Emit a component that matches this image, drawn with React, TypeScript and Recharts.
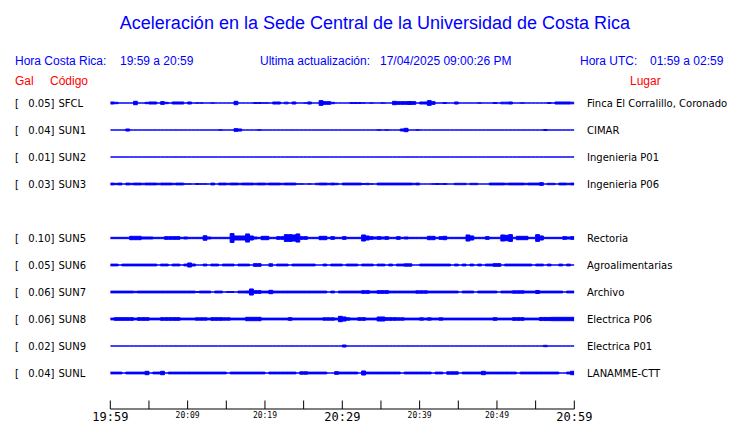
import React from 'react';
import { ComposedChart, Area, XAxis, YAxis } from 'recharts';

// estaciones en orden de arriba hacia abajo (SUN4 sin datos en esta hora)
const stations = ['SFCL', 'SUN1', 'SUN2', 'SUN3', 'SUN4', 'SUN5', 'SUN6', 'SUN7', 'SUN8', 'SUN9', 'SUNL'];
const peakGal = ['0.05', '0.04', '0.01', '0.03', '', '0.10', '0.05', '0.06', '0.06', '0.02', '0.04'];
const places = [
  'Finca El Corralillo, Coronado',
  'CIMAR',
  'Ingenieria P01',
  'Ingenieria P06',
  '',
  'Rectoria',
  'Agroalimentarias',
  'Archivo',
  'Electrica P06',
  'Electrica P01',
  'LANAMME-CTT',
];

// minutos desde 19:59 y sus etiquetas
const tickMinutes = [0, 5, 10, 15, 20, 25, 30, 35, 40, 45, 50, 55, 60];
const tickLabels = ['19:59', '', '20:09', '', '20:19', '', '20:29', '', '20:39', '', '20:49', '', '20:59'];
const majorTicks = [0, 30, 60];

// envolvente (media amplitud) por intervalo de 30 s, 120 intervalos por traza
const envSFCL = [
  1.5, 1, 0, 0, 0, 0, 2.5, 0, 0, 1,
  1.5, 1.5, 0, 2, 1, 0, 1.5, 1.5, 1.5, 0,
  1.5, 0, 0.5, 0.5, 0, 0, 0.5, 0, 0, 0,
  0, 0, 2.5, 0, 0, 0, 0, 0.7, 0.7, 0.5,
  0.5, 0, 1.5, 1.5, 0, 1.2, 0, 1.5, 0, 0,
  0.5, 1.5, 0, 0, 3.5, 2, 2, 1, 0, 0,
  0, 0, 0.7, 0.7, 0.7, 0.5, 0, 0.5, 0, 0,
  0.5, 0, 0, 2.5, 2, 2, 2, 2.2, 2, 0,
  1.5, 1.5, 3.5, 2, 0, 0, 0.7, 0, 0, 1.5,
  0, 0, 0, 0, 0, 0.5, 0, 0, 0, 0.7,
  0, 1.2, 1.2, 1.5, 0, 0, 0.5, 0, 0, 0,
  0, 0, 0, 0.7, 0, 1.5, 1.5, 1.5, 1.5, 1.2,
];
const envSUN1 = [
  0, 0, 0, 0, 1.5, 0, 0, 0, 0, 0,
  0, 0, 0, 0, 0, 0, 0, 0, 0, 0,
  0, 0, 0, 0, 0, 0, 0, 0, 0.5, 0,
  0, 0, 2, 1.5, 0, 0, 0, 0, 0.5, 0,
  0, 0, 0, 0, 0, 0, 0, 0, 0, 0,
  0, 0, 0, 0, 0, 0, 0, 0, 0, 0,
  0, 0, 0, 0, 0, 0, 0, 0, 0, 0.5,
  0, 0.5, 0, 0, 0, 1.5, 2.5, 0, 0, 0.5,
  0, 0, 0, 0, 0, 0, 0, 0, 0, 0,
  0, 0, 0, 0, 0, 0, 0, 0, 0, 0,
  0, 0, 0, 0, 0, 0, 0, 0, 0, 0,
  0, 0, 0.7, 0, 0, 0, 0, 0, 0, 0,
];
const envSUN2 = [
  0, 0, 0, 0, 0, 0, 0, 0, 0, 0,
  0, 0, 0, 0, 0, 0, 0, 0, 0, 0,
  0, 0, 0, 0, 0, 0, 0, 0, 0, 0,
  0, 0, 0, 0, 0, 0, 0, 0, 0, 0,
  0, 0, 0, 0, 0, 0, 0, 0, 0, 0,
  0, 0, 0, 0, 0, 0, 0, 0, 0, 0,
  0, 0, 0, 0, 0, 0, 0, 0, 0, 0,
  0, 0, 0, 0, 0, 0, 0, 0, 0, 0,
  0, 0, 0, 0, 0, 0, 0, 0, 0, 0,
  0, 0, 0, 0, 0, 0, 0, 0, 0, 0,
  0, 0, 0, 0, 0, 0, 0, 0, 0, 0,
  0, 0, 0, 0, 0, 0, 0, 0, 0, 0,
];
const envSUN3 = [
  1.3, 1, 1.3, 0, 1.3, 1, 1.3, 1.3, 1, 1.3,
  1.3, 1.3, 1, 1.3, 1.3, 1.3, 1, 1.3, 1.3, 0.5,
  0.5, 0, 0.7, 0.5, 0.5, 0, 1.3, 0, 1.3, 1.3,
  1, 1.3, 1.3, 1, 1.3, 1.3, 1.3, 1, 1.3, 1.3,
  1, 1.3, 1.3, 1.3, 1, 1.3, 1.3, 1.3, 0.5, 0.5,
  0, 0.5, 0, 1, 1.3, 1.3, 1, 1.3, 1, 0,
  1.3, 1.3, 1.3, 1.3, 1.3, 0.7, 1, 0.5, 0, 1.3,
  1.3, 1.3, 1.3, 1.3, 1.3, 1.3, 1.3, 1.3, 1, 1.3,
  0, 0, 0, 0.5, 0.7, 0.5, 0.7, 0, 0, 1,
  1, 1, 0, 1, 1, 0, 0, 0, 1.3, 1.3,
  1.3, 1.3, 1, 1.3, 1.3, 1.3, 1.3, 1, 1.3, 1.3,
  1.3, 2, 0, 1, 1, 0, 1.3, 1.3, 1, 1.3,
];
const envSUN5 = [
  1, 1, 1, 1, 1, 2.5, 2.5, 2.5, 1.5, 1.5,
  1.5, 1, 1, 1, 2, 2, 2, 2, 1, 1.5,
  1, 1, 1, 1, 3.3, 1.5, 1, 1, 1, 1,
  1, 6.5, 3, 3, 3, 6, 3, 1.5, 1, 2.5,
  2.5, 1, 1, 2, 2, 5, 5, 4.5, 6, 2,
  2, 1, 1, 1, 2.5, 2.5, 1, 2, 1, 1,
  2, 1, 1, 1, 1, 4.5, 3, 2, 1.5, 2,
  1.5, 2, 1, 1, 2, 1, 1.5, 1, 1, 1,
  1, 1, 2.5, 2.5, 1, 2, 2.5, 1, 1, 1,
  1, 1, 4.5, 3, 1, 1, 1, 2, 1, 1,
  1, 4.5, 4, 5, 1, 2.5, 2.5, 2.5, 1, 1,
  5, 3, 1, 1, 1, 1, 1, 2, 1.5, 2,
];
const envSUN6 = [
  1.3, 1.3, 0, 1.3, 1.3, 1.3, 1.3, 1.3, 1.3, 1.3,
  1.3, 1.3, 0, 1.3, 1.3, 0, 1.3, 1.3, 0, 1.3,
  3, 1.5, 0, 0, 1.3, 0, 1.3, 1.3, 0, 1.3,
  1.3, 1.3, 0, 1.3, 1.3, 1.3, 0, 2, 2, 0,
  0, 1.8, 0, 1.3, 1.3, 1.3, 0, 1.3, 1.3, 1.3,
  1.3, 1.3, 1.3, 0, 0, 1.3, 0, 1.3, 1.3, 1.3,
  0, 1.3, 1.3, 1.3, 0, 1.3, 1.3, 1.3, 0, 1.3,
  1.3, 0, 1.3, 0, 1.3, 1.3, 1.7, 1.7, 0, 0,
  1.3, 1.3, 1.3, 1.3, 1.3, 1.3, 1.3, 1.3, 0, 1.3,
  0, 1.3, 0, 1.3, 0, 1.3, 0, 1.3, 1.3, 2,
  2, 0, 1.3, 1.3, 1.3, 1.3, 1.3, 1.3, 1.3, 0,
  1.3, 1.3, 0, 1.3, 0, 0, 1.3, 0, 1.3, 0,
];
const envSUN7 = [
  1.3, 1.3, 1.3, 1.3, 1.3, 1.3, 1, 1.3, 1.3, 1.3,
  1.3, 1.3, 1.3, 1.3, 1.3, 1.3, 1.3, 1.3, 1.3, 1.3,
  1.3, 1.3, 0.7, 1.3, 1.3, 1.3, 0, 1.3, 1.3, 0,
  0.7, 0.7, 0, 1.3, 1.3, 1.5, 4.5, 2, 2, 1.3,
  1.3, 2.5, 1.3, 1.3, 1.3, 1.3, 1.3, 1.3, 1.3, 1.3,
  1.3, 1.3, 1.3, 1.3, 1.3, 1.3, 0, 1.3, 0, 1.3,
  1.3, 1.3, 1.3, 1.3, 1.3, 2, 2, 1.3, 1.3, 2,
  2, 2, 1.3, 1.3, 1.3, 1.3, 1.3, 1.3, 1.3, 1.8,
  1.8, 1.8, 1.3, 1.3, 1.3, 1.3, 1.3, 1.3, 1.3, 1.3,
  0, 1.3, 1.3, 1.3, 0, 1.3, 1.3, 1.3, 1.3, 1.3,
  0, 1.3, 1.3, 1.3, 1.8, 1.8, 1.8, 1.3, 1.3, 1.3,
  2.2, 1.3, 1.3, 1.3, 1.3, 1.3, 1.3, 0, 1.3, 1.3,
];
const envSUN8 = [
  1.3, 2, 2, 2, 2, 2, 1.3, 2, 2, 2,
  1.3, 1.3, 1.3, 2, 2, 2, 2, 2, 1.3, 1.3,
  1.3, 1.3, 1.8, 1.8, 1.8, 1.3, 2, 2, 2, 1.8,
  1.8, 1.3, 1.3, 1.3, 1.3, 2.5, 2.5, 2.5, 2.5, 1.3,
  1.3, 1.3, 1.3, 1.3, 1.3, 1.3, 2, 1.3, 1.3, 1.3,
  1.3, 1.3, 1.3, 1.3, 1.3, 1.8, 1.8, 1.8, 1.3, 4,
  3, 1.8, 1.3, 1.3, 2, 2, 1.3, 1.3, 1.3, 3,
  3, 2, 2, 2, 1.8, 1.8, 1.3, 1.3, 1.3, 1.3,
  1.8, 1.3, 1.8, 1.3, 1.3, 1.8, 1.3, 1.3, 1.3, 1.3,
  1.3, 1.3, 1.3, 1.3, 1.3, 1.3, 1.3, 1.3, 1.3, 2,
  1.3, 1.3, 1.3, 1.3, 2, 2, 2, 1.3, 1.3, 1.3,
  1.3, 2.3, 2.3, 2.3, 2.5, 2.5, 2.5, 2.5, 2.5, 2.5,
];
const envSUN9 = [
  0, 0, 0, 0, 0, 0, 0, 0, 0, 0,
  0, 0, 0, 0, 0, 0, 0, 0, 0, 0,
  0, 0, 0, 0, 0, 0, 0, 0, 0, 0,
  0, 0, 0, 0, 0, 0, 0, 0, 0, 0,
  0, 0, 0, 0, 0, 0, 0, 0, 0, 0,
  0, 0, 0, 0, 0, 0, 0, 0, 0, 0,
  1.5, 0, 0, 0, 0, 0, 0, 0, 0, 0,
  0, 0, 0, 0, 0, 0, 0, 0, 0, 0,
  0, 0, 0, 0, 0, 0, 0, 0, 0, 0,
  0, 0, 0, 0, 0, 0, 0, 0, 0, 0,
  0, 0, 0, 0, 0, 0, 0, 0, 0, 0,
  0, 0, 1, 0, 0, 0, 0, 0, 0, 0,
];
const envSUNL = [
  1.3, 1.3, 1.3, 0, 1.3, 1.3, 1.3, 1.3, 1.3, 2.5,
  0, 1.3, 1.3, 2.5, 0, 1.3, 1.3, 1.3, 1.3, 1.3,
  1.3, 1.3, 1.3, 1.3, 1.3, 1.3, 1.3, 1.3, 1.3, 1.3,
  0, 1.3, 1.3, 1.3, 1.3, 1.3, 1.3, 1.3, 1.3, 1.3,
  0, 1.3, 1.3, 1.3, 1.3, 1.3, 1.3, 1.3, 0, 1.8,
  1.8, 1.3, 1.3, 1.3, 1.3, 1.3, 0, 0, 2, 1.3,
  1.3, 1.3, 1.3, 1.3, 0, 3, 1.3, 1.3, 1.3, 1.3,
  1.3, 1.3, 1.3, 1.3, 1.3, 0, 1.3, 1.3, 1.3, 1.3,
  1.3, 1.3, 1.3, 0, 1.3, 1.3, 0, 1.8, 1.8, 1.8,
  0, 1.3, 1.3, 1.3, 1.3, 1.3, 2.5, 1.3, 1.3, 1.3,
  1.3, 1.3, 1.3, 1.3, 1.3, 0, 1.3, 1.3, 1.3, 1.3,
  1.3, 1.3, 1.3, 1.3, 1.3, 1.3, 0, 0, 1.3, 2.5,
];

const envelopes: (number[] | null)[] = [
  envSFCL, envSUN1, envSUN2, envSUN3, null, envSUN5, envSUN6, envSUN7, envSUN8, envSUN9, envSUNL,
];

const BLUE = '#0000ff';
const RED = '#ff0000';
const AMP_SCALE = 40; // cuentas de envolvente por fila
const ROWS_DOMAIN = 333 / 27;

// tabla para recharts: cada traza como rango [base - a, base + a]
const table = Array.from({ length: 121 }, (_, i) => {
  const row: Record<string, any> = { t: i * 0.5 };
  envelopes.forEach((env, k) => {
    if (!env) return;
    const a = env[Math.min(i, env.length - 1)] / AMP_SCALE;
    row[stations[k]] = [k + 1 - a, k + 1 + a];
  });
  return row;
});

const rowTicks = stations.map((_, k) => k + 1);

const StationTick = (props: any) => {
  const { y, payload } = props;
  const k = payload.value - 1;
  if (!peakGal[k]) return null;
  const font = { fontFamily: 'DejaVu Sans', fontSize: 10, fill: '#000' };
  return (
    <g>
      <text x={15} y={y + 3.5} {...font}>[</text>
      <text x={54.5} y={y + 3.5} textAnchor="end" {...font}>{peakGal[k] + ']'}</text>
      <text x={58.5} y={y + 3.5} {...font}>{stations[k]}</text>
    </g>
  );
};

const PlaceTick = (props: any) => {
  const { y, payload } = props;
  const k = payload.value - 1;
  if (!places[k]) return null;
  return (
    <text x={587} y={y + 3.5} fontFamily="DejaVu Sans" fontSize={10} fill="#000">
      {places[k]}
    </text>
  );
};

const TimeTick = (props: any) => {
  const { x, y, payload } = props;
  const i = tickMinutes.indexOf(payload.value);
  const major = majorTicks.includes(payload.value);
  return (
    <g>
      <line x1={x} x2={x} y1={y - 8.5} y2={y} stroke="#000" strokeWidth={1} />
      {tickLabels[i] ? (
        <text
          x={x}
          y={major ? y + 11.7 : y + 8.7}
          textAnchor="middle"
          fontFamily="DejaVu Sans Mono"
          fontSize={major ? 12 : 8}
          fill="#000"
        >
          {tickLabels[i]}
        </text>
      ) : null}
    </g>
  );
};

const Header = () => {
  const sans = { fontFamily: 'Liberation Sans, Arial', fontSize: 12 };
  return (
    <svg width={740} height={95} style={{ position: 'absolute', left: 0, top: 0, pointerEvents: 'none' }}>
      <text x={375} y={29} textAnchor="middle" fontFamily="Liberation Sans, Arial" fontSize={18} fill={BLUE}>
        Aceleración en la Sede Central de la Universidad de Costa Rica
      </text>
      <text x={15} y={65} fill={BLUE} {...sans}>Hora Costa Rica:</text>
      <text x={120} y={65} fill={BLUE} {...sans}>19:59 a 20:59</text>
      <text x={260} y={65} fill={BLUE} {...sans}>Ultima actualización:</text>
      <text x={380} y={65} fill={BLUE} {...sans}>17/04/2025 09:00:26 PM</text>
      <text x={580} y={65} fill={BLUE} {...sans}>Hora UTC:</text>
      <text x={650} y={65} fill={BLUE} {...sans}>01:59 a 02:59</text>
      <text x={15} y={85} fill={RED} {...sans}>Gal</text>
      <text x={50} y={85} fill={RED} {...sans}>Código</text>
      <text x={630} y={85} fill={RED} {...sans}>Lugar</text>
    </svg>
  );
};

export default function App() {
  return (
    <div style={{ position: 'absolute', left: 0, top: 0, width: 740, height: 423, background: '#fff' }}>
      <ComposedChart width={740} height={423} data={table} margin={{ top: 76, right: 0, bottom: 0, left: 0 }}>
        <XAxis
          dataKey="t"
          type="number"
          domain={[0, 60]}
          ticks={tickMinutes}
          interval={0}
          height={14}
          tickSize={0}
          tickMargin={0}
          tickLine={false}
          axisLine={{ stroke: '#000', strokeWidth: 1 }}
          tick={<TimeTick />}
          allowDataOverflow
        />
        <YAxis
          yAxisId="left"
          type="number"
          domain={[0, ROWS_DOMAIN]}
          reversed
          ticks={rowTicks}
          interval={0}
          width={110.3}
          axisLine={false}
          tickLine={false}
          tick={<StationTick />}
          allowDataOverflow
        />
        <YAxis
          yAxisId="right"
          orientation="right"
          type="number"
          domain={[0, ROWS_DOMAIN]}
          reversed
          ticks={rowTicks}
          interval={0}
          width={165.7}
          axisLine={false}
          tickLine={false}
          tick={<PlaceTick />}
          allowDataOverflow
        />
        {envelopes.map((env, k) =>
          env ? (
            <Area
              key={stations[k]}
              yAxisId="left"
              type="stepAfter"
              dataKey={stations[k]}
              stroke={BLUE}
              strokeWidth={1}
              fill={BLUE}
              fillOpacity={1}
              dot={false}
              activeDot={false}
              isAnimationActive={false}
            />
          ) : null
        )}
      </ComposedChart>
      <Header />
    </div>
  );
}
